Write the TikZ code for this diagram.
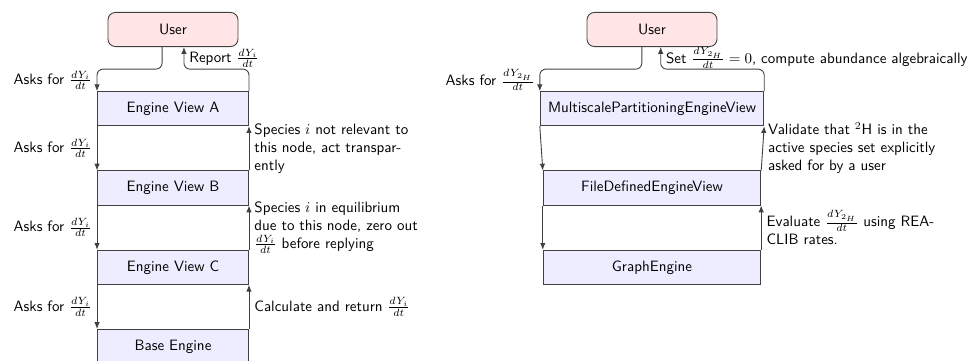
\documentclass[tikz,border=0pt]{standalone}
\usetikzlibrary{arrows.meta,calc}
\begin{document}
\begin{tikzpicture}[x=0.6667pt,y=-0.6667pt,
  font=\sffamily,
  userbox/.style={draw=black!75, fill=red!10, rounded corners=5pt,
    minimum width=86.7pt, minimum height=0.8cm, line width=0.6pt},
  enginebox/.style={draw=black!75, fill=blue!7, minimum height=0.8cm, line width=0.6pt},
  flow/.style={draw=black!75, line width=0.6pt, -{Latex[length=4.5pt,width=3.6pt]}},
  note/.style={text width=4cm, align=left},
]
\useasboundingbox (0,0) rectangle (976,360);

% ---------------- left stack: generic engine views ----------------
\node[userbox] (u1) at (173,29.5) {User};
\node[enginebox, minimum width=100.7pt] (a) at (173,108.7) {Engine View A};
\node[enginebox, minimum width=100.7pt] (b) at (173,188) {Engine View B};
\node[enginebox, minimum width=100.7pt] (c) at (173,267.3) {Engine View C};
\node[enginebox, minimum width=100.7pt] (base) at (173,346.5) {Base Engine};

\coordinate (u1d) at ([xshift=-7.3pt]u1.south);
\coordinate (u1r) at ([xshift=7.3pt]u1.south);
\coordinate (m1) at ($(u1.south)!0.5!(a.north)$);

\draw[flow, rounded corners=4pt] (u1d) -- (u1d |- m1) -| (a.north west)
  node[pos=0.75, left] {Asks for $\frac{dY_i}{dt}$};
\draw[flow, rounded corners=4pt] (a.north east) |- (u1r |- m1)
  -- node[right] {Report $\frac{dY_i}{dt}$} (u1r);

\draw[flow] (a.south west) -- node[left] {Asks for $\frac{dY_i}{dt}$} (b.north west);
\draw[flow] (b.north east) -- node[right, note]
  {Species $i$ not relevant to this node, act transparently} (a.south east);

\draw[flow] (b.south west) -- node[left] {Asks for $\frac{dY_i}{dt}$} (c.north west);
\draw[flow] (c.north east) -- node[right, note]
  {Species $i$ in equilibrium due to this node, zero out $\frac{dY_i}{dt}$ before replying} (b.south east);

\draw[flow] (c.south west) -- node[left] {Asks for $\frac{dY_i}{dt}$} (base.north west);
\draw[flow] (base.north east) -- node[right]
  {Calculate and return $\frac{dY_i}{dt}$} (c.south east);

% ---------------- right stack: deuterium example ----------------
\node[userbox] (u2) at (652,29.5) {User};
\node[enginebox, minimum width=149pt] (ms) at (652,108.7) {MultiscalePartitioningEngineView};
\node[enginebox, minimum width=145pt] (fd) at (652,188) {FileDefinedEngineView};
\node[enginebox, minimum width=145pt] (ge) at (652,267.3) {GraphEngine};

\coordinate (u2d) at ([xshift=-6.8pt]u2.south);
\coordinate (u2r) at ([xshift=5.8pt]u2.south);
\coordinate (m2) at ($(u2.south)!0.5!(ms.north)$);

\draw[flow, rounded corners=4pt] (u2d) -- (u2d |- m2) -| (ms.north west)
  node[pos=0.75, left] {Asks for $\frac{dY_{2_H}}{dt}$};
\draw[flow, rounded corners=4pt] (ms.north east) |- (u2r |- m2)
  -- node[right] {Set $\frac{dY_{2_H}}{dt}=0$, compute abundance algebraically} (u2r);

\draw[flow] (ms.south west) -- (fd.north west);
\draw[flow] (fd.north east) -- node[right, note]
  {Validate that $^2$H is in the active species set explicitly asked for by a user} (ms.south east);

\draw[flow] (fd.south west) -- (ge.north west);
\draw[flow] (ge.north east) -- node[right, note]
  {Evaluate $\frac{dY_{2_H}}{dt}$ using REACLIB rates.} (fd.south east);
\end{tikzpicture}
\end{document}
